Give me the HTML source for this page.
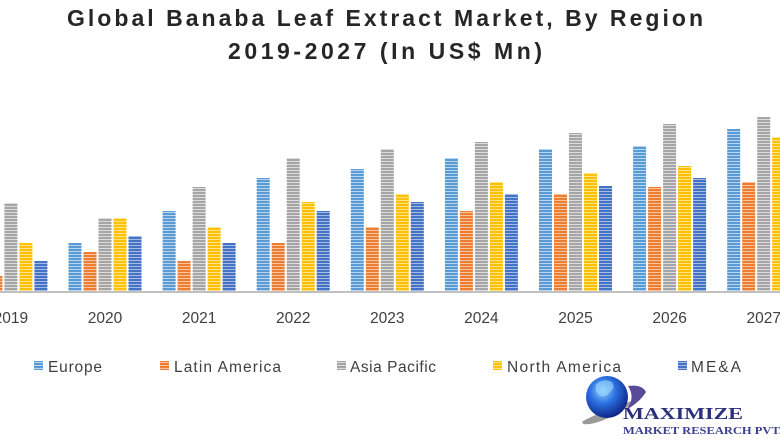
<!DOCTYPE html>
<html><head><meta charset="utf-8"><style>
html,body{margin:0;padding:0;background:#fff;}
svg{display:block;}
</style></head><body>
<svg width="780" height="440" viewBox="0 0 780 440" xmlns="http://www.w3.org/2000/svg">
<defs>
<pattern id="pE" patternUnits="userSpaceOnUse" width="20" height="3"><rect width="20" height="3" fill="#5b9bd5"/><rect y="2" width="20" height="1" fill="#b9d4ee"/></pattern>
<pattern id="pL" patternUnits="userSpaceOnUse" width="20" height="3"><rect width="20" height="3" fill="#ed7d31"/><rect y="2" width="20" height="1" fill="#f8c4a0"/></pattern>
<pattern id="pA" patternUnits="userSpaceOnUse" width="20" height="3"><rect width="20" height="3" fill="#a5a5a5"/><rect y="2" width="20" height="1" fill="#dcdcdc"/></pattern>
<pattern id="pN" patternUnits="userSpaceOnUse" width="20" height="3"><rect width="20" height="3" fill="#ffc000"/><rect y="2" width="20" height="1" fill="#ffe38a"/></pattern>
<pattern id="pM" patternUnits="userSpaceOnUse" width="20" height="3"><rect width="20" height="3" fill="#4472c4"/><rect y="2" width="20" height="1" fill="#a5bbe3"/></pattern>
<radialGradient id="globe" cx="0.4" cy="0.35" r="0.7">
<stop offset="0" stop-color="#8fd0ff"/><stop offset="0.45" stop-color="#2a6fe0"/><stop offset="1" stop-color="#0a1d7a"/>
</radialGradient>
</defs>

<!-- Title -->
<g font-family="Liberation Sans, sans-serif" font-weight="bold" fill="#262626" font-size="23">
<text x="67" y="26" textLength="636" lengthAdjust="spacing">Global Banaba Leaf Extract Market, By Region</text>
<text x="228" y="59" textLength="314" lengthAdjust="spacing">2019-2027 (In US$ Mn)</text>
</g>

<!-- axis -->
<rect x="0" y="291" width="780" height="2" fill="#c0c0c0"/>

<!-- bars -->
<g id="bars">
<!-- 2019 center 10.9 -->
<rect x="-25.6" y="230" width="13" height="61" fill="url(#pE)"/>
<rect x="-10.6" y="276" width="13" height="15" fill="url(#pL)"/>
<rect x="4.4" y="203" width="13" height="88" fill="url(#pA)"/>
<rect x="19.4" y="243" width="13" height="48" fill="url(#pN)"/>
<rect x="34.4" y="261" width="13" height="30" fill="url(#pM)"/>
<!-- 2020 center 105 -->
<rect x="68.5" y="243" width="13" height="48" fill="url(#pE)"/>
<rect x="83.5" y="252" width="13" height="39" fill="url(#pL)"/>
<rect x="98.5" y="218" width="13" height="73" fill="url(#pA)"/>
<rect x="113.5" y="218" width="13" height="73" fill="url(#pN)"/>
<rect x="128.5" y="236" width="13" height="55" fill="url(#pM)"/>
<!-- 2021 center 199.1 -->
<rect x="162.6" y="211" width="13" height="80" fill="url(#pE)"/>
<rect x="177.6" y="261" width="13" height="30" fill="url(#pL)"/>
<rect x="192.6" y="187" width="13" height="104" fill="url(#pA)"/>
<rect x="207.6" y="227" width="13" height="64" fill="url(#pN)"/>
<rect x="222.6" y="243" width="13" height="48" fill="url(#pM)"/>
<!-- 2022 center 293.2 -->
<rect x="256.7" y="178" width="13" height="113" fill="url(#pE)"/>
<rect x="271.7" y="243" width="13" height="48" fill="url(#pL)"/>
<rect x="286.7" y="158" width="13" height="133" fill="url(#pA)"/>
<rect x="301.7" y="202" width="13" height="89" fill="url(#pN)"/>
<rect x="316.7" y="211" width="13" height="80" fill="url(#pM)"/>
<!-- 2023 center 387.3 -->
<rect x="350.8" y="169" width="13" height="122" fill="url(#pE)"/>
<rect x="365.8" y="227" width="13" height="64" fill="url(#pL)"/>
<rect x="380.8" y="149" width="13" height="142" fill="url(#pA)"/>
<rect x="395.8" y="194" width="13" height="97" fill="url(#pN)"/>
<rect x="410.8" y="202" width="13" height="89" fill="url(#pM)"/>
<!-- 2024 center 481.4 -->
<rect x="444.9" y="158" width="13" height="133" fill="url(#pE)"/>
<rect x="459.9" y="211" width="13" height="80" fill="url(#pL)"/>
<rect x="474.9" y="142" width="13" height="149" fill="url(#pA)"/>
<rect x="489.9" y="182" width="13" height="109" fill="url(#pN)"/>
<rect x="504.9" y="194" width="13" height="97" fill="url(#pM)"/>
<!-- 2025 center 575.5 -->
<rect x="539" y="149" width="13" height="142" fill="url(#pE)"/>
<rect x="554" y="194" width="13" height="97" fill="url(#pL)"/>
<rect x="569" y="133" width="13" height="158" fill="url(#pA)"/>
<rect x="584" y="173" width="13" height="118" fill="url(#pN)"/>
<rect x="599" y="186" width="13" height="105" fill="url(#pM)"/>
<!-- 2026 center 669.6 -->
<rect x="633.1" y="146" width="13" height="145" fill="url(#pE)"/>
<rect x="648.1" y="187" width="13" height="104" fill="url(#pL)"/>
<rect x="663.1" y="124" width="13" height="167" fill="url(#pA)"/>
<rect x="678.1" y="166" width="13" height="125" fill="url(#pN)"/>
<rect x="693.1" y="178" width="13" height="113" fill="url(#pM)"/>
<!-- 2027 center 763.7 -->
<rect x="727.2" y="129" width="13" height="162" fill="url(#pE)"/>
<rect x="742.2" y="182" width="13" height="109" fill="url(#pL)"/>
<rect x="757.2" y="117" width="13" height="174" fill="url(#pA)"/>
<rect x="772.2" y="137" width="13" height="154" fill="url(#pN)"/>
<rect x="787.2" y="160" width="13" height="131" fill="url(#pM)"/>
</g>

<!-- year labels -->
<g font-family="Liberation Sans, sans-serif" font-size="15.5" fill="#404040" text-anchor="middle">
<text x="10.9" y="323">2019</text>
<text x="105" y="323">2020</text>
<text x="199.1" y="323">2021</text>
<text x="293.2" y="323">2022</text>
<text x="387.3" y="323">2023</text>
<text x="481.4" y="323">2024</text>
<text x="575.5" y="323">2025</text>
<text x="669.6" y="323">2026</text>
<text x="763.7" y="323">2027</text>
</g>

<!-- legend -->
<g font-family="Liberation Sans, sans-serif" font-size="15.5" fill="#404040">
<rect x="34" y="361" width="9" height="9" fill="url(#pE)"/>
<text x="48" y="372" textLength="54" lengthAdjust="spacing">Europe</text>
<rect x="160" y="361" width="9" height="9" fill="url(#pL)"/>
<text x="174" y="372" textLength="107" lengthAdjust="spacing">Latin America</text>
<rect x="337" y="361" width="9" height="9" fill="url(#pA)"/>
<text x="350" y="372" textLength="86" lengthAdjust="spacing">Asia Pacific</text>
<rect x="493" y="361" width="9" height="9" fill="url(#pN)"/>
<text x="507" y="372" textLength="114" lengthAdjust="spacing">North America</text>
<rect x="678" y="361" width="9" height="9" fill="url(#pM)"/>
<text x="691" y="372" textLength="50" lengthAdjust="spacing">ME&amp;A</text>
</g>

<!-- logo -->
<g>
<path d="M583 421 Q600 412 640 398 Q612 420 590 424 Q580 425 583 421 Z" fill="#9a9a9a"/>
<circle cx="607" cy="397" r="21" fill="url(#globe)"/>
<path d="M596 384 Q604 378 612 382 Q616 388 610 392 Q606 398 600 396 Q594 392 596 384 Z" fill="#9fd8ff" opacity="0.6"/>
<path d="M628 386 Q642 384 646 392 Q640 402 626 410 Q636 398 628 386 Z" fill="#5a4a9a"/>
<text x="623" y="419" font-family="Liberation Serif, serif" font-weight="bold" font-size="16.5" fill="#2b2f7c" textLength="120" lengthAdjust="spacingAndGlyphs">MAXIMIZE</text>
<text x="623" y="434" font-family="Liberation Serif, serif" font-weight="bold" font-size="10" fill="#3b3f8c" textLength="159" lengthAdjust="spacingAndGlyphs">MARKET RESEARCH PVT.</text>
</g>
</svg>
</body></html>
